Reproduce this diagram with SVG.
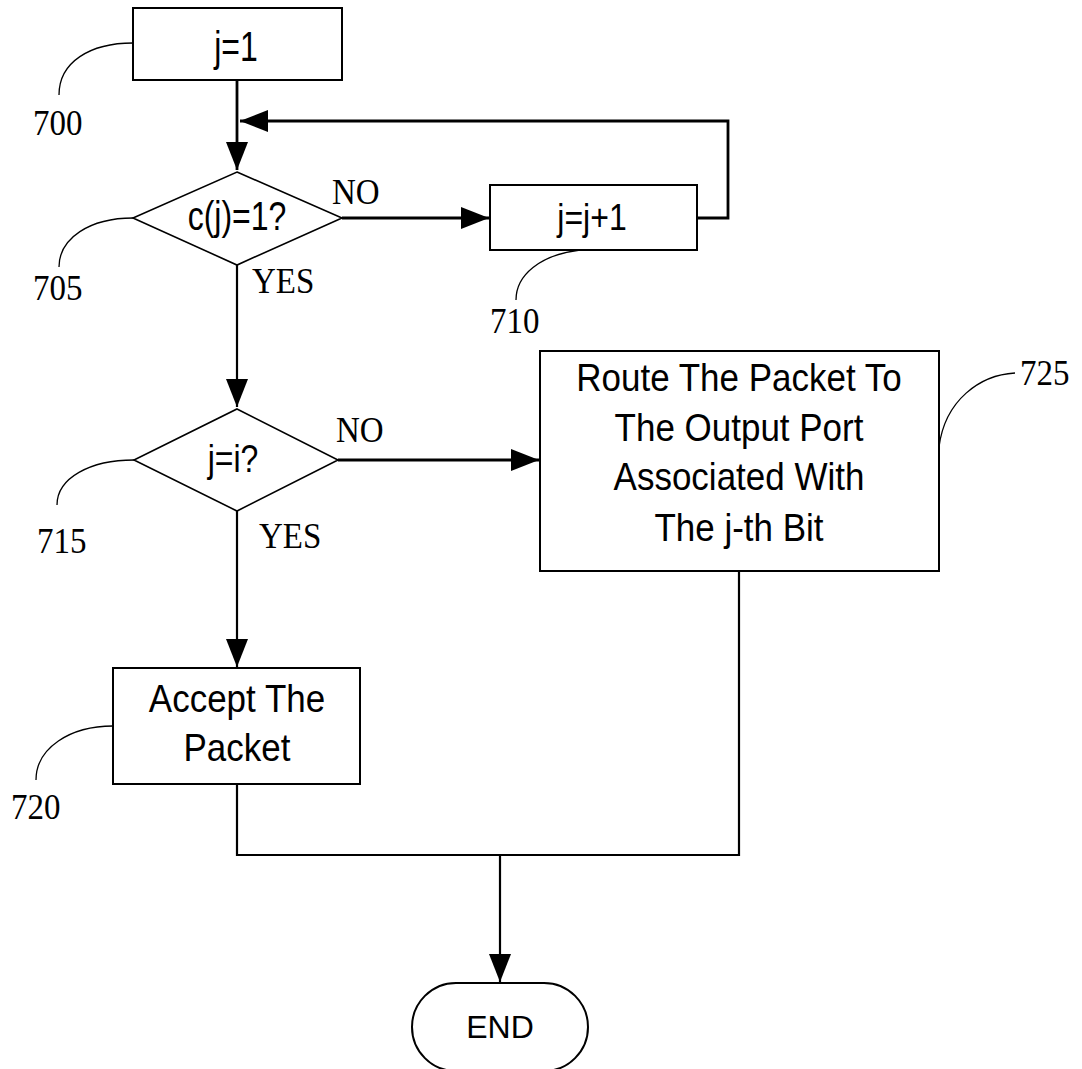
<svg xmlns="http://www.w3.org/2000/svg" width="1082" height="1069" viewBox="0 0 1082 1069">
<style>
.box{fill:#fff;stroke:#000;stroke-width:2}
.dia{fill:#fff;stroke:#000;stroke-width:1.6}
.t{font-family:"Liberation Sans",Arial,sans-serif;font-size:32px;fill:#000;text-anchor:middle}
.tb{font-family:"Liberation Sans",Arial,sans-serif;font-size:35px;fill:#000;text-anchor:middle}
.lbl{font-family:"Liberation Serif","Times New Roman",serif;font-size:33px;fill:#000}
.ld{fill:none;stroke:#000;stroke-width:1.3}
.c{fill:none;stroke:#000;stroke-width:2.2}
.cb{fill:none;stroke:#000;stroke-width:2.8}
</style>
<defs>
<marker id="ah" markerUnits="userSpaceOnUse" markerWidth="30" markerHeight="24" refX="28" refY="11" orient="auto">
<path d="M0,0 L28,11 L0,22 z" fill="#000"/>
</marker>
</defs>
<g id="connectors">
<path class="cb" d="M237,80 V170" marker-end="url(#ah)"/>
<path class="cb" d="M697,218 H728 V121 H240" marker-end="url(#ah)"/>
<path class="cb" d="M342,218 H489" marker-end="url(#ah)"/>
<path class="c" d="M237,265 V407" marker-end="url(#ah)"/>
<path class="cb" d="M338,460 H539" marker-end="url(#ah)"/>
<path class="c" d="M237,511 V667" marker-end="url(#ah)"/>
<path class="c" d="M237,784 V855 H739 V571"/>
<path class="c" d="M500,855 V982" marker-end="url(#ah)"/>
</g>
<g id="n700">
<rect class="box" x="133" y="8" width="209" height="72"/>
<text class="t" transform="translate(236,61) scale(1,1.35)">j=1</text>
<path class="ld" d="M133,43 C90,43 59,62 59,95"/>
<text class="lbl" transform="translate(33,135) scale(1,1.1)">700</text>
</g>
<g id="n705">
<polygon class="dia" points="237,172 342,218 237,265 133,218"/>
<text class="t" transform="translate(237,230) scale(1,1.25)">c(j)=1?</text>
<text class="lbl" transform="translate(332,204) scale(1,1.1)">NO</text>
<text class="lbl" transform="translate(252,293) scale(1,1.1)">YES</text>
<path class="ld" d="M133,218 C90,218 59,238 59,267"/>
<text class="lbl" transform="translate(33,300) scale(1,1.1)">705</text>
</g>
<g id="n710">
<rect class="box" x="490" y="185" width="207" height="65"/>
<text class="t" transform="translate(592,230) scale(1,1.15)">j=j+1</text>
<path class="ld" d="M580,250 C540,255 516,275 516,300"/>
<text class="lbl" transform="translate(490,333) scale(1,1.1)">710</text>
</g>
<g id="n715">
<polygon class="dia" points="237,409 338,460 237,511 134,460"/>
<text class="t" transform="translate(233,472) scale(1,1.2)">j=i?</text>
<text class="lbl" transform="translate(336,442) scale(1,1.1)">NO</text>
<text class="lbl" transform="translate(259,548) scale(1,1.1)">YES</text>
<path class="ld" d="M134,460 C90,460 57,478 57,505"/>
<text class="lbl" transform="translate(37,553) scale(1,1.1)">715</text>
</g>
<g id="n720">
<rect class="box" x="113" y="668" width="247" height="116"/>
<text class="tb" transform="translate(237,712) scale(1,1.12)">Accept The</text>
<text class="tb" transform="translate(237,761) scale(1,1.12)">Packet</text>
<path class="ld" d="M113,726 C70,726 36,748 36,780"/>
<text class="lbl" transform="translate(11,819) scale(1,1.1)">720</text>
</g>
<g id="n725">
<rect class="box" x="540" y="351" width="399" height="220"/>
<text class="tb" transform="translate(739,391) scale(1,1.12)">Route The Packet To</text>
<text class="tb" transform="translate(739,441) scale(1,1.12)">The Output Port</text>
<text class="tb" transform="translate(739,490) scale(1,1.12)">Associated With</text>
<text class="tb" transform="translate(739,541) scale(1,1.12)">The j-th Bit</text>
<path class="ld" d="M939,447 C945,400 980,375 1015,373"/>
<text class="lbl" transform="translate(1020,385) scale(1,1.1)">725</text>
</g>
<g id="end">
<rect class="box" x="412" y="983" width="176" height="88" rx="44" ry="44"/>
<text class="t" x="500" y="1038">END</text>
</g>
</svg>
